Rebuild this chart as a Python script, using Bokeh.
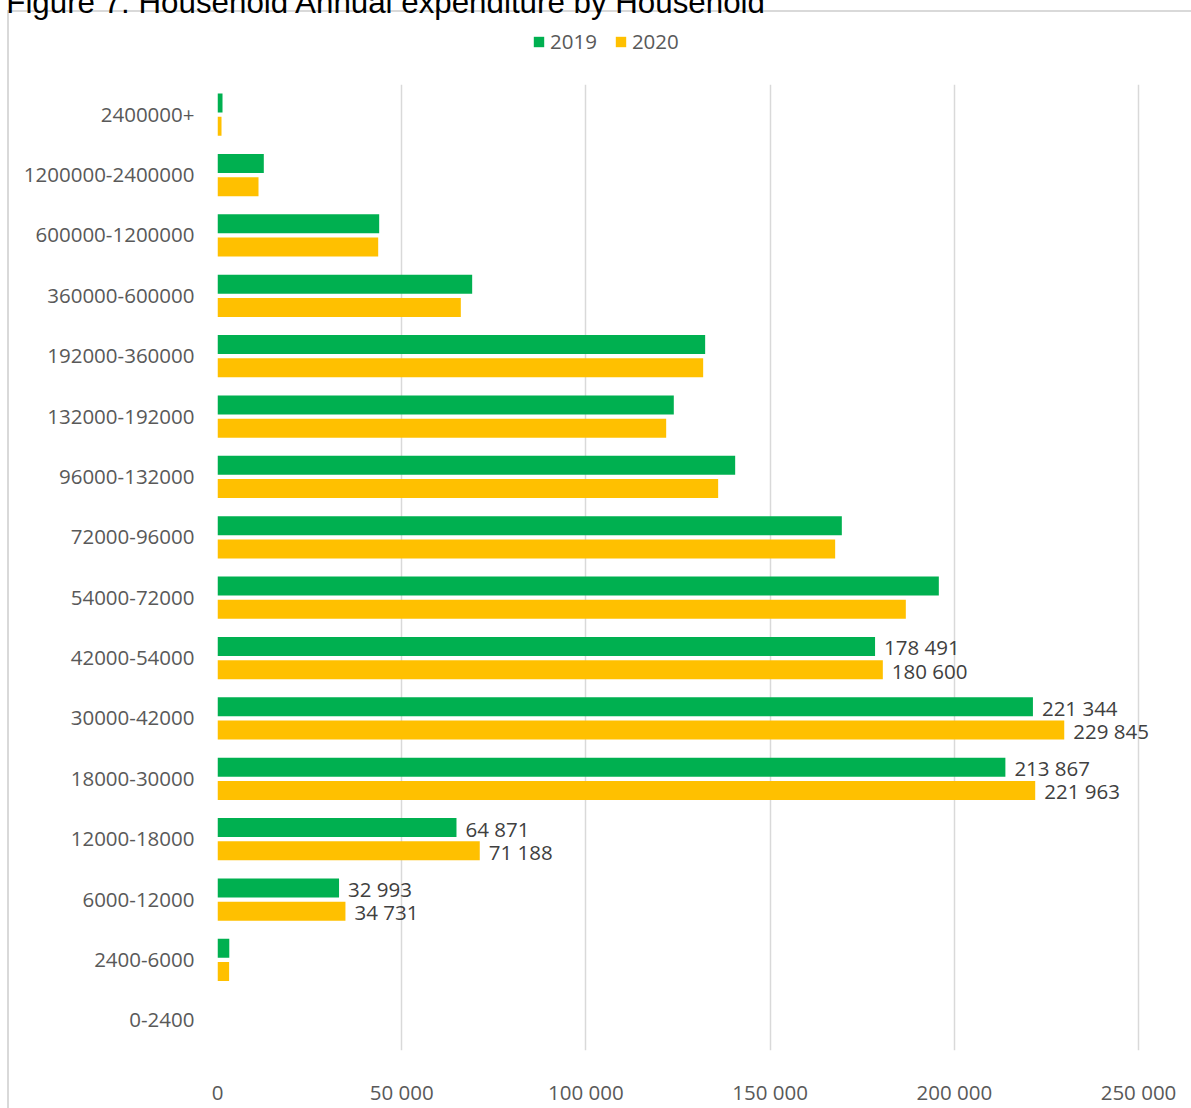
from bokeh.plotting import figure
from bokeh.layouts import column
from bokeh.models import (ColumnDataSource, FactorRange, Range1d, FixedTicker, LabelSet,
                          Title, Legend, LegendItem)
from bokeh.transform import dodge
from bokeh.core.properties import value
from bokeh.embed import file_html
from bokeh.resources import INLINE

# ---------------- data ----------------
categories = ["0-2400", "2400-6000", "6000-12000", "12000-18000", "18000-30000",
              "30000-42000", "42000-54000", "54000-72000", "72000-96000", "96000-132000",
              "132000-192000", "192000-360000", "360000-600000", "600000-1200000",
              "1200000-2400000", "2400000+"]
values_2019 = [0, 3200, 32993, 64871, 213867, 221344, 178491, 195800, 169470, 140520,
               123860, 132370, 69130, 43890, 12570, 1360]
values_2020 = [0, 3150, 34731, 71188, 221963, 229845, 180600, 186840, 167660, 135900,
               121790, 131830, 66050, 43620, 11130, 1090]
labelled_categories = ["6000-12000", "12000-18000", "18000-30000", "30000-42000", "42000-54000"]
x_ticks = [0, 50000, 100000, 150000, 200000, 250000]
x_tick_labels = ["0", "50 000", "100 000", "150 000", "200 000", "250 000"]
series_names = ["2019", "2020"]
title_text = "Figure 7: Household Annual expenditure by Household"

# ---------------- layout constants ----------------
W, H = 1191, 1108
TOP_H = 84                      # header strip (title + legend) visible on the page
LIFT = 18                       # header canvas starts this far above the page top
MAIN_H = H - TOP_H
FL, X250, FB = 217, 1138, 978   # frame left, x of 250 000, frame bottom (main canvas px)
X_END = 250000 * (W - FL) / (X250 - FL)   # frame runs to the right edge so labels are not cut
FONT = "Open Sans"
GREEN, YELLOW = "#00B050", "#FFC000"
TXT = "#595959"
BORDER = "#d9d9d9"


def fmt(v):
    return f"{v:,}".replace(",", " ")


# ---------------- header: title + legend ----------------
head = figure(width=W, height=TOP_H + LIFT, output_backend="svg", toolbar_location=None,
              x_axis_location=None, y_axis_location=None,
              x_range=Range1d(0, 1), y_range=Range1d(0, 1),
              min_border_left=0, min_border_right=0,
              min_border_top=19, min_border_bottom=0)
head.margin = (-LIFT, 0, 0, 0)
head.grid.visible = False
head.outline_line_color = None
head.background_fill_alpha = 0
head.border_fill_alpha = 0

# legend swatches (renderers kept outside the visible range)
k19 = head.hbar(y=[-10], right=[1], height=1, fill_color=GREEN, line_color=None)
k20 = head.hbar(y=[-10], right=[1], height=1, fill_color=YELLOW, line_color=None)
legend = Legend(items=[LegendItem(label=series_names[0], renderers=[k19]),
                       LegendItem(label=series_names[1], renderers=[k20])],
                orientation="horizontal", location=(532 - FL, 28),
                glyph_width=13, glyph_height=13, label_standoff=5, spacing=17,
                label_height=30, padding=0, margin=0,
                border_line_color=None, background_fill_alpha=0,
                label_text_font=FONT, label_text_font_size="20.5px", label_text_color=TXT)
head.add_layout(legend, "center")

# title (cut by the top edge, as in the reference crop)
head.add_layout(Title(text=title_text, align="left", vertical_align="bottom",
                      offset=5.8 - FL, standoff=0,
                      text_font="Liberation Sans", text_font_size="31.3px",
                      text_font_style="normal", text_color="black"), "above")

# ---------------- main chart ----------------
src = ColumnDataSource(dict(cat=categories, v2019=values_2019, v2020=values_2020))

p = figure(width=W, height=MAIN_H, output_backend="svg", toolbar_location=None,
           y_range=FactorRange(factors=categories, range_padding=0),
           x_range=Range1d(0, X_END),
           min_border_left=FL, min_border_right=0,
           min_border_top=0, min_border_bottom=MAIN_H - FB)
p.outline_line_color = None
p.background_fill_color = "white"
p.border_fill_alpha = 0

off = 0.193
bh = 0.315
r19 = p.hbar(y=dodge("cat", off, range=p.y_range), right="v2019", height=bh,
             fill_color=GREEN, line_color=None, source=src)
r20 = p.hbar(y=dodge("cat", -off, range=p.y_range), right="v2020", height=bh,
             fill_color=YELLOW, line_color=None, source=src)

p.xaxis.ticker = FixedTicker(ticks=x_ticks)
p.xaxis.major_label_overrides = {t: l for t, l in zip(x_ticks, x_tick_labels)}
p.xaxis.axis_line_color = None
p.xaxis.major_tick_line_color = None
p.xaxis.minor_tick_line_color = None
p.xaxis.major_label_standoff = 21
p.xaxis.major_label_text_font = FONT
p.xaxis.major_label_text_font_size = "20.5px"
p.xaxis.major_label_text_color = TXT

p.yaxis.axis_line_color = None
p.yaxis.major_tick_line_color = None
p.yaxis.major_label_standoff = 17
p.yaxis.major_label_text_font = FONT
p.yaxis.major_label_text_font_size = "20.5px"
p.yaxis.major_label_text_color = TXT

p.ygrid.grid_line_color = None
p.xgrid.grid_line_color = BORDER
p.xgrid.grid_line_width = 1.5

lab19 = [fmt(v) if c in labelled_categories else "" for c, v in zip(categories, values_2019)]
lab20 = [fmt(v) if c in labelled_categories else "" for c, v in zip(categories, values_2020)]
lsrc = ColumnDataSource(dict(cat=categories, v2019=values_2019, v2020=values_2020,
                             l2019=lab19, l2020=lab20))
for col, lcol, o in (("v2019", "l2019", off), ("v2020", "l2020", -off)):
    p.add_layout(LabelSet(x=col, y=dodge("cat", o, range=p.y_range), text=lcol, source=lsrc,
                          x_offset=9, y_offset=-1, text_baseline="middle", text_align="left",
                          text_font=value(FONT), text_font_size="20.5px",
                          text_color="#404040"))

page = column(head, p, spacing=0)
# outer chart border (left and top edges), seen through the transparent canvas borders
page.styles = {
    "background-color": "white",
    "background-image": f"linear-gradient({BORDER},{BORDER}), linear-gradient({BORDER},{BORDER})",
    "background-size": "2px 100%, 100% 2px",
    "background-position": "7px 10px, 7px 10px",
    "background-repeat": "no-repeat",
}

open("out.html", "w").write(file_html(page, INLINE))
